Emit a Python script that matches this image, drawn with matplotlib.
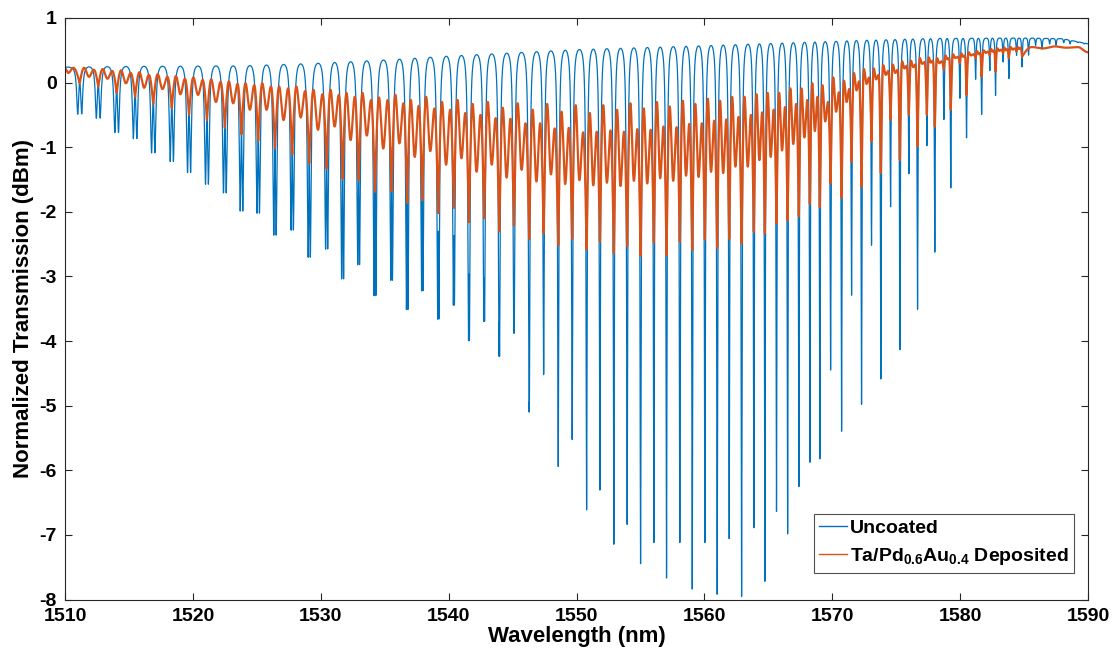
import numpy as np
import matplotlib
matplotlib.use("Agg")
import matplotlib.pyplot as plt

plt.rcParams['font.family'] = ['Liberation Sans', 'DejaVu Sans']
plt.rcParams['font.weight'] = 'bold'
plt.rcParams['axes.unicode_minus'] = False
plt.rcParams['mathtext.fontset'] = 'custom'
plt.rcParams['mathtext.rm'] = 'Liberation Sans:bold'
plt.rcParams['mathtext.bf'] = 'Liberation Sans:bold'

# ---------------- data ----------------
# Uncoated spectrum: resonance dip wavelengths (nm) and dip minima (dBm)
blue_dip_wl = [1511.15, 1512.60, 1514.04, 1515.48, 1516.90, 1518.35, 1519.70, 1521.10, 1522.50, 1523.80,
               1525.11, 1526.42, 1527.77, 1529.10, 1530.46, 1531.71, 1532.96, 1534.24, 1535.54, 1536.76,
               1537.94, 1539.19, 1540.41, 1541.59, 1542.78, 1543.96, 1545.11, 1546.30, 1547.43, 1548.57, 1549.66,
               1550.79, 1551.83, 1552.92, 1553.96, 1555.01, 1556.05, 1557.04, 1558.08, 1559.05, 1560.04,
               1561.00, 1561.94, 1562.91, 1563.87, 1564.73, 1565.64, 1566.51, 1567.39, 1568.25,
               1569.03, 1569.87, 1570.73, 1571.51, 1572.29, 1573.07, 1573.80, 1574.56, 1575.29, 1575.99,
               1576.67, 1577.40, 1578.02, 1578.73, 1579.27, 1579.98, 1580.50, 1581.21, 1581.68, 1582.32,
               1582.77, 1583.36, 1583.81, 1584.41, 1584.84,
               1585.35, 1585.90, 1586.40, 1587.00, 1587.50, 1588.10, 1588.60, 1589.20, 1589.70]
blue_dip_db = [-0.48, -0.54, -0.76, -0.85, -1.07, -1.20, -1.37, -1.55, -1.68, -1.96,
               -1.99, -2.33, -2.25, -2.67, -2.54, -3.00, -2.78, -3.26, -3.02, -3.47,
               -3.18, -3.62, -3.40, -3.95, -3.65, -4.19, -3.83, -5.05, -4.47, -5.89, -5.47,
               -6.56, -6.25, -7.09, -6.78, -7.39, -7.06, -7.61, -7.06, -7.78, -7.06,
               -7.86, -7.00, -7.90, -6.83, -7.66, -6.58, -6.93, -6.20, -5.82,
               -5.77, -4.40, -5.35, -3.24, -4.94, -2.47, -4.55, -1.88, -4.10, -1.37,
               -3.48, -0.94, -2.60, -0.54, -1.61, -0.22, -0.84, 0.07, -0.48, 0.20,
               -0.19, 0.33, 0.07, 0.43, 0.25,
               0.43, 0.58, 0.52, 0.60, 0.58, 0.62, 0.60, 0.62, 0.60]
# Uncoated upper envelope (arch tops)
blue_env_wl = [1510, 1515, 1524, 1530, 1536, 1540, 1545, 1550, 1555, 1560, 1566, 1572, 1578, 1585, 1588, 1590]
blue_env_db = [0.24, 0.25, 0.26, 0.30, 0.36, 0.41, 0.46, 0.51, 0.54, 0.57, 0.61, 0.65, 0.68, 0.69, 0.68, 0.60]
# doublet splitting of the uncoated dips
blue_split_wl = [1510, 1524, 1537, 1548, 1590]
blue_split_nm = [0.32, 0.20, 0.12, 0.0, 0.0]

# Ta/Pd0.6Au0.4 deposited: main dips (at the uncoated dip wavelengths)
orange_main_db = [-0.01, -0.06, -0.16, -0.22, -0.33, -0.39, -0.50, -0.58, -0.70, -0.80,
                  -0.90, -1.02, -1.11, -1.25, -1.33, -1.49, -1.51, -1.69, -1.68, -1.86,
                  -1.82, -2.02, -1.94, -2.16, -2.10, -2.30, -2.21, -2.42, -2.33, -2.52, -2.42,
                  -2.58, -2.46, -2.64, -2.53, -2.68, -2.48, -2.67, -2.46, -2.59, -2.43,
                  -2.56, -2.42, -2.49, -2.31, -2.33, -2.18, -2.13, -2.07, -1.88,
                  -1.93, -1.56, -1.78, -1.22, -1.61, -0.91, -1.40, -0.58, -1.20, -0.50,
                  -0.98, -0.50, -0.68, 0.20, -0.42, 0.30, -0.19, 0.38, 0.09, 0.42,
                  0.17, 0.45, 0.38, 0.48, 0.40]
# in each period after a main dip: tall peak, secondary dip, small peak
orange_tall_db = [0.23, 0.21, 0.19, 0.16, 0.13, 0.10, 0.08, 0.05, 0.02,
                  -0.01, -0.01, -0.06, -0.06, -0.11, -0.11, -0.16, -0.16, -0.23, -0.19, -0.27,
                  -0.22, -0.30, -0.27, -0.33, -0.30, -0.39, -0.32, -0.42, -0.33, -0.45, -0.35,
                  -0.47, -0.35, -0.42, -0.32, -0.40, -0.30, -0.37, -0.28, -0.33, -0.25,
                  -0.28, -0.22, -0.22, -0.18, -0.16, -0.16, -0.09, -0.09, -0.01,
                  -0.04, 0.08, 0.03, 0.15, 0.21, 0.22, 0.27, 0.28, 0.33, 0.34,
                  0.38, 0.39, 0.38, 0.42, 0.44, 0.45, 0.47, 0.49, 0.50, 0.52,
                  0.53, 0.54, 0.55, 0.55]
orange_sec_db = [0.09, 0.06, -0.01, -0.08, -0.10, -0.18, -0.19, -0.30, -0.32,
                 -0.42, -0.42, -0.58, -0.54, -0.73, -0.68, -0.89, -0.82, -1.02, -0.94, -1.15,
                 -1.06, -1.27, -1.17, -1.38, -1.27, -1.47, -1.35, -1.53, -1.42, -1.57, -1.51,
                 -1.59, -1.55, -1.60, -1.52, -1.56, -1.48, -1.52, -1.44, -1.46, -1.38,
                 -1.40, -1.30, -1.30, -1.20, -1.15, -1.05, -0.95, -0.85, -0.75,
                 -0.60, -0.45, -0.30, -0.12, -0.02, 0.05, 0.12, 0.15, 0.22, 0.24,
                 0.29, 0.31, 0.30, 0.36, 0.38, 0.40, 0.42, 0.44, 0.46, 0.48,
                 0.49, 0.50, 0.51, 0.52]
orange_small_db = [0.20, 0.18, 0.15, 0.12, 0.09, 0.06, 0.04, 0.01, -0.02,
                   -0.04, -0.06, -0.09, -0.13, -0.18, -0.19, -0.22, -0.27, -0.27, -0.32, -0.36,
                   -0.40, -0.42, -0.47, -0.50, -0.55, -0.56, -0.63, -0.63, -0.71, -0.70, -0.77,
                   -0.76, -0.74, -0.76, -0.72, -0.73, -0.68, -0.69, -0.64, -0.63, -0.59,
                   -0.57, -0.53, -0.50, -0.46, -0.42, -0.38, -0.33, -0.27, -0.22,
                   -0.30, -0.15, -0.10, 0.02, 0.08, 0.12, 0.18, 0.20, 0.26, 0.28,
                   0.32, 0.34, 0.33, 0.38, 0.40, 0.42, 0.44, 0.46, 0.48, 0.50,
                   0.51, 0.52, 0.53, 0.54]
orange_head_wl = [1510.0, 1510.26, 1510.65]
orange_head_db = [0.22, 0.15, 0.23]
orange_tail_wl = [1585.6, 1586.5, 1587.4, 1588.3, 1589.2, 1590.0]
orange_tail_db = [0.55, 0.53, 0.56, 0.54, 0.55, 0.47]

series_labels = ['Uncoated', r'Ta/Pd$_{0.6}$Au$_{0.4}$ Deposited']
x_ticks = [1510, 1520, 1530, 1540, 1550, 1560, 1570, 1580, 1590]
y_ticks = [1, 0, -1, -2, -3, -4, -5, -6, -7, -8]

# ---------------- build the traces ----------------
wl = np.linspace(1510, 1590, 80001)
bw = np.array(blue_dip_wl)
bd = np.array(blue_dip_db)
period = np.gradient(bw)
env = np.interp(wl, blue_env_wl, blue_env_db)
mids = np.concatenate(([1510.0], (bw[:-1] + bw[1:]) / 2, [1590.0]))


def uncoated_trace(targets):
    T = np.ones_like(wl)
    for c, d, p in zip(bw, targets, period):
        e = np.interp(c, blue_env_wl, blue_env_db)
        a = float(np.clip(1 - 10 ** ((d - e) / 10.0), 0.0, 0.999))
        g = p / 14.0
        s = float(np.interp(c, blue_split_wl, blue_split_nm))
        L = np.maximum(1 / (1 + ((wl - (c - s / 2)) / g) ** 2),
                       1 / (1 + ((wl - (c + s / 2)) / g) ** 2))
        T *= 1 - a * L
    y = env + 10 * np.log10(T)
    # keep the arch tops on the read envelope
    deficit = np.interp(mids, blue_env_wl, blue_env_db) - np.interp(mids, wl, y)
    return y + np.interp(wl, mids, deficit), np.interp(bw, mids, deficit)


blue, shift = uncoated_trace(bd)
blue, shift2 = uncoated_trace(bd - shift)

# orange: knots through the read extrema
kx, ky, kk = [], [], []
for x_, y_ in zip(orange_head_wl, orange_head_db):
    kx.append(x_); ky.append(y_); kk.append(0)
nm = len(orange_main_db)
for i in range(nm):
    kx.append(bw[i]); ky.append(orange_main_db[i]); kk.append(1)
    if i < nm - 1:
        P = bw[i + 1] - bw[i]
        for frac, val in ((0.24, orange_tall_db[i]), (0.50, orange_sec_db[i]), (0.76, orange_small_db[i])):
            kx.append(bw[i] + frac * P); ky.append(val); kk.append(0)
for x_, y_ in zip(orange_tail_wl, orange_tail_db):
    kx.append(x_); ky.append(y_); kk.append(0)
kx = np.array(kx); ky = np.array(ky); kk = np.array(kk)
idx = np.clip(np.searchsorted(kx, wl, side='right') - 1, 0, len(kx) - 2)
t = (wl - kx[idx]) / (kx[idx + 1] - kx[idx])
g = (1 - np.cos(np.pi * t)) / 2
g = np.where(kk[idx] == 1, np.sin(np.pi * t / 2), g)
g = np.where(kk[idx + 1] == 1, 1 - np.cos(np.pi * t / 2), g)
orange = ky[idx] + (ky[idx + 1] - ky[idx]) * g

# ---------------- plot ----------------
fig = plt.figure(figsize=(11.2, 6.66), dpi=100)
ax = fig.add_axes([65 / 1120, 1 - 599.5 / 666, (1088 - 65) / 1120, (599.5 - 18) / 666])
ax.plot(wl, blue, color='#0072BD', lw=0.9, label=series_labels[0])
ax.plot(wl, orange, color='#D95319', lw=1.6, label=series_labels[1])
ax.set_xlim(1510, 1590)
ax.set_ylim(-8, 1)
ax.set_xticks(x_ticks)
ax.set_yticks(y_ticks)
ax.tick_params(direction='in', length=5, width=0.8, top=True, right=True,
               labelsize=14, colors='#262626', labelcolor='black', pad=6)
for lab in ax.get_xticklabels() + ax.get_yticklabels():
    lab.set_fontweight('bold')
for sp in ax.spines.values():
    sp.set_color('#262626')
    sp.set_linewidth(0.8)
ax.set_xlabel('Wavelength (nm)', fontsize=16, fontweight='bold', labelpad=1)
ax.set_ylabel('Normalized Transmission (dBm)', fontsize=16, fontweight='bold', labelpad=4)
leg = ax.legend(loc='lower right', bbox_to_anchor=(0.9865, 0.046), fontsize=14,
                frameon=True, fancybox=False, edgecolor='#262626', handlelength=1.4,
                handletextpad=0.15, borderpad=0.3, labelspacing=0.45, borderaxespad=0)
leg.get_frame().set_linewidth(0.8)
for txt in leg.get_texts():
    txt.set_fontweight('bold')
for ln in leg.get_lines():
    ln.set_linewidth(1.0)
fig.savefig('out.png', dpi=100)
